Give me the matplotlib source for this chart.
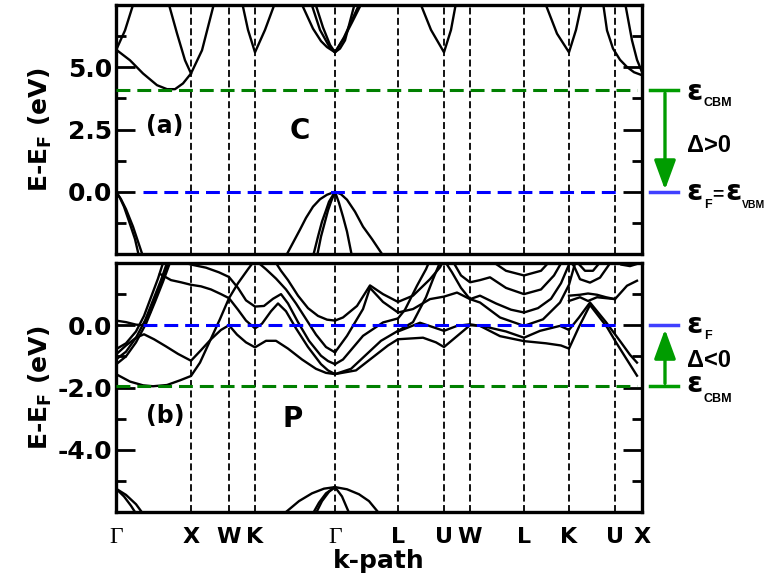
import matplotlib
matplotlib.use("Agg")
import matplotlib.pyplot as plt
from matplotlib.transforms import blended_transform_factory
from matplotlib.ticker import FixedLocator, FormatStrFormatter

plt.rcParams['font.family'] = 'DejaVu Sans'
plt.rcParams['font.weight'] = 'bold'
plt.rcParams['axes.labelweight'] = 'bold'
plt.rcParams['axes.unicode_minus'] = False
plt.rcParams['mathtext.fontset'] = 'dejavusans'
plt.rcParams['mathtext.default'] = 'bf'
plt.rcParams['lines.scale_dashes'] = False

W, H = 765, 587

# high symmetry path, k in path length (arb. units)
kpts = [0, 75, 113, 139, 219, 282, 328, 354, 408, 453, 499, 526]
klabels = ['Γ', 'X', 'W', 'K', 'Γ', 'L', 'U', 'W', 'L', 'K', 'U', 'X']
k_end = 521        # end of the computed bands / level lines
k_fermi = (27, 504)  # extent of the blue E_F line

# (a) C -- bands as (k, E) points
c_cbm = 4.1
c_bands = [
    [(1, 5.68), (14, 5.28), (27, 4.75), (41, 4.28), (51, 4.12), (59, 4.12), (67, 4.35),
     (75, 4.75), (86, 5.68), (97, 7.4), (99, 7.8)],
    [(51, 7.8), (61, 6.36), (69, 5.28), (75, 4.75)],
    [(0, 5.68), (9, 6.48), (17, 7.5), (18, 7.8)],
    [(0, 0.0), (4, -0.25), (8, -0.6), (14, -1.3), (19, -1.9), (23, -2.6)],
    [(0, 0.0), (5, -0.3), (10, -0.7), (17, -1.4), (22, -2.0), (27, -2.6)],
    [(125, 7.8), (132, 6.5), (139, 5.6), (149, 6.5), (161, 7.8)],
    [(185, 7.6), (197, 6.55), (205, 6.05), (211, 5.81), (219, 5.6), (224, 5.75), (229, 6.08),
     (239, 7.6)],
    [(195, 7.6), (204, 6.5), (213, 5.85), (219, 5.6), (228, 6.2), (236, 6.9), (244, 7.6)],
    [(199, 7.6), (207, 6.6), (214, 5.9), (219, 5.6), (227, 6.1), (236, 6.8), (246, 7.6)],
    [(171, -2.5), (184, -1.52), (190, -1.05), (197, -0.6), (204, -0.3), (211, -0.12),
     (219, 0.0), (225, -0.1), (231, -0.32), (239, -0.8), (247, -1.4), (256, -1.9), (266, -2.5)],
    [(197, -2.6), (202, -1.8), (206, -1.2), (210, -0.75), (213, -0.4), (219, 0.0)],
    [(201, -2.6), (205, -1.8), (209, -1.2), (212, -0.75), (215, -0.4), (219, 0.0)],
    [(219, 0.0), (223, -0.45), (227, -1.0), (231, -1.6), (236, -2.6)],
    [(302, 7.8), (315, 6.5), (328, 5.6), (335, 6.5), (341, 7.8)],
    [(427, 7.8), (441, 6.35), (453, 5.6), (460, 6.5), (467, 7.8)],
    [(487, 7.6), (491, 6.48), (497, 5.75), (504, 5.3), (511, 5.01), (518, 4.8), (526, 4.68)],
    [(509, 7.6), (516, 6.08), (521, 5.3), (526, 4.81)],
]

# (b) P
p_cbm = -1.95
p_bands = [
    # Γ-X-W-K
    [(0, -1.57), (14, -1.81), (27, -1.93), (37, -1.96), (51, -1.92), (64, -1.77), (75, -1.63),
     (84, -1.2), (94, -0.5), (104, 0.2), (113, 0.87), (122, 1.35), (132, 1.8), (139, 2.1)],
    [(0, -0.94), (10, -0.65), (20, -0.4), (28, -0.29), (38, -0.45), (50, -0.68), (62, -0.92),
     (75, -1.14), (85, -0.8), (95, -0.45), (105, -0.15), (113, 0.0), (121, -0.3), (130, -0.55),
     (139, -0.71), (150, -0.5), (160, -0.5), (172, -0.75), (186, -1.1), (200, -1.4),
     (210, -1.53), (219, -1.57)],
    [(0, 0.15), (10, 0.1), (20, 0.02), (27, 0.0), (34, 0.4), (41, 1.0), (47, 1.5), (53, 2.1)],
    [(0, -0.77), (10, -0.58), (20, -0.2), (28, 0.3), (35, 0.9), (42, 1.5), (48, 2.1)],
    [(0, -1.1), (10, -0.85), (20, -0.4), (29, 0.15), (37, 0.8), (45, 1.45), (52, 2.1)],
    [(0, -1.26), (10, -1.0), (20, -0.55), (30, 0.05), (39, 0.75), (47, 1.4), (55, 2.1)],
    [(44, 1.65), (55, 1.45), (65, 1.38), (75, 1.3), (85, 1.25), (95, 1.15), (105, 1.0),
     (113, 0.87), (122, 0.5), (130, 0.15), (139, -0.1), (146, 0.05), (155, 0.45), (162, 0.7),
     (170, 0.45), (180, -0.1), (192, -0.7), (205, -1.25), (212, -1.45), (219, -1.57)],
    [(60, 2.1), (75, 1.95), (90, 1.85), (103, 1.7), (113, 1.55), (122, 1.2), (130, 0.8),
     (139, 0.6), (148, 0.62), (157, 0.85), (165, 1.0), (172, 0.7), (182, 0.1), (193, -0.5),
     (205, -0.98), (212, -1.15), (219, -1.25)],
    # K-Γ
    [(139, 2.1), (150, 1.8), (160, 1.5), (170, 1.15), (180, 0.7), (190, 0.2), (200, -0.3),
     (210, -0.7), (219, -0.87)],
    [(158, 2.1), (165, 1.75), (172, 1.45), (182, 0.95), (192, 0.55), (202, 0.3), (211, 0.18),
     (219, 0.15)],
    # Γ-L-U-W-L-K-U-X
    [(219, 0.15), (227, 0.25), (241, 0.62), (254, 1.28), (267, 1.0), (282, 0.75), (297, 0.95),
     (314, 1.48), (324, 1.86), (328, 2.1)],
    [(219, -0.87), (231, -0.34), (247, 0.52), (254, 1.2), (267, 0.75), (282, 0.41), (297, 0.52),
     (314, 0.84), (328, 0.92), (341, 1.05), (354, 0.84), (364, 0.73), (384, 0.25), (408, -0.02),
     (427, 0.19), (444, 0.73), (453, 1.3), (460, 2.1)],
    [(219, -1.25), (227, -1.1), (247, -0.34), (267, 0.09), (282, 0.22), (289, 0.5), (301, 1.27),
     (310, 1.8), (314, 2.1)],
    [(219, -1.57), (235, -1.4), (250, -0.95), (265, -0.5), (282, -0.18), (297, 0.1), (310, 0.9),
     (317, 1.48), (325, 2.1)],
    [(282, -0.2), (304, 0.08), (328, -0.18), (341, -0.02), (354, 0.03), (370, -0.05),
     (390, -0.2), (408, -0.4), (424, -0.18), (444, -0.02), (453, -0.15), (463, 0.25),
     (474, 0.73), (490, 0.1), (505, -0.55), (514, -0.95), (521, -1.2)],
    [(219, -1.57), (240, -1.45), (260, -0.95), (272, -0.65), (282, -0.45), (307, -0.4),
     (320, -0.55), (328, -0.7), (341, -0.35), (354, 0.0), (364, -0.02), (384, -0.35),
     (408, -0.51), (430, -0.58), (445, -0.65), (453, -0.75), (463, -0.05), (474, 0.65),
     (491, -0.06), (501, -0.6), (521, -1.62)],
    [(328, 2.1), (336, 1.7), (345, 1.2), (354, 0.84), (364, 0.95), (380, 0.7), (395, 0.5),
     (408, 0.41), (422, 0.55), (435, 0.85), (445, 1.35), (453, 1.95), (455, 2.1)],
    [(336, 2.1), (345, 1.6), (354, 1.38), (364, 1.45), (374, 1.54), (390, 1.2), (408, 1.0),
     (425, 1.15), (438, 1.6), (447, 2.1)],
    [(374, 2.1), (390, 1.75), (408, 1.6), (425, 1.75), (435, 2.1)],
    [(453, 0.78), (464, 0.9), (472, 0.78), (481, 0.9), (499, 0.84), (511, 1.27), (521, 1.43)],
    [(453, 0.95), (464, 0.98), (472, 1.02), (481, 0.98), (490, 0.9), (499, 0.84)],
    [(453, 2.1), (458, 1.9), (464, 1.48), (474, 1.37), (484, 1.53), (494, 1.99), (496, 2.1)],
    [(459, 2.1), (469, 1.75), (477, 1.75), (486, 2.1)],
    [(499, 2.1), (505, 1.95), (514, 1.9), (521, 1.97)],
    # deep valence bands
    [(0, -5.25), (10, -5.45), (20, -5.75), (28, -6.1)],
    [(0, -5.25), (8, -5.5), (15, -5.8), (21, -6.1)],
    [(170, -6.0), (183, -5.65), (196, -5.4), (208, -5.25), (219, -5.2), (231, -5.27),
     (243, -5.43), (253, -5.65), (262, -6.0)],
    [(196, -6.1), (203, -5.7), (210, -5.4), (219, -5.2)],
    [(199, -6.1), (206, -5.65), (213, -5.35), (219, -5.2)],
    [(219, -5.2), (226, -5.5), (234, -6.1)],
]

green = '#008000'
arrow_green = '#009c00'
blue = '#0000ff'

fig = plt.figure(figsize=(W / 100, H / 100), dpi=100)
ax1 = fig.add_axes([116 / W, 1 - 254 / H, 526 / W, 249 / H])
ax2 = fig.add_axes([116 / W, 1 - 512 / H, 526 / W, 249 / H])


def draw_panel(ax, bands, cbm, ylim, major, minor):
    for k in kpts[1:-1]:
        ax.axvline(k, color='black', lw=1.3, dashes=(5, 2.5), zorder=1)
    for band in bands:
        ks, es = zip(*band)
        ax.plot(ks, es, color='black', lw=1.7, zorder=2, solid_joinstyle='round')
    ax.hlines(cbm, 0, k_end, color=green, lw=2.2, linestyles=[(0, (10, 5))], zorder=3)
    ax.hlines(0, k_fermi[0], k_fermi[1], color=blue, lw=2.2, linestyles=[(0, (10, 5))], zorder=3)
    ax.set_xlim(kpts[0], kpts[-1])
    ax.set_ylim(*ylim)
    ax.yaxis.set_major_locator(FixedLocator(major))
    ax.yaxis.set_minor_locator(FixedLocator(minor))
    ax.yaxis.set_major_formatter(FormatStrFormatter('%.1f'))
    ax.tick_params(axis='y', which='both', direction='in', left=True, right=True,
                   width=2, labelsize=18, pad=3)
    ax.tick_params(axis='y', which='major', length=14)
    ax.tick_params(axis='y', which='minor', length=7)
    ax.set_xticks(kpts)
    ax.tick_params(axis='x', length=0, labelsize=16, pad=11)
    for sp in ax.spines.values():
        sp.set_linewidth(2.4)
    ax.set_ylabel('E-E$_F$ (eV)', fontsize=18, fontweight='bold')
    ax.yaxis.set_label_coords(-0.118, 0.5)


draw_panel(ax1, c_bands, c_cbm, (-2.5, 7.5), [0, 2.5, 5.0], [-1.25, 1.25, 3.75, 6.25])
draw_panel(ax2, p_bands, p_cbm, (-6, 2), [-4, -2, 0], [-5, -3, -1, 1])

ax1.tick_params(axis='x', labelbottom=False)
ax2.set_xticklabels(klabels)
for lbl in ax2.get_xticklabels():
    if lbl.get_text() == 'Γ':
        lbl.set_fontfamily('Liberation Serif')
        lbl.set_fontweight('normal')
        lbl.set_fontsize(17)
ax2.set_xlabel('k-path', fontsize=18, fontweight='bold')
ax2.xaxis.set_label_coords(0.5, -0.15)

ax1.text(0.093, 0.486, '(a)', transform=ax1.transAxes, fontsize=17, ha='center', va='baseline')
ax1.text(0.350, 0.462, 'C', transform=ax1.transAxes, fontsize=20, ha='center', va='baseline')
ax2.text(0.093, 0.358, '(b)', transform=ax2.transAxes, fontsize=17, ha='center', va='baseline')
ax2.text(0.3365, 0.341, 'P', transform=ax2.transAxes, fontsize=20, ha='center', va='baseline')

# level markers and arrows to the right of the panels
for ax, cbm, tail, tip in [(ax1, c_cbm, c_cbm - 0.14, 0.08), (ax2, p_cbm, p_cbm + 0.08, -0.13)]:
    tr = blended_transform_factory(ax.transAxes, ax.transData)
    ax.plot([1.015, 1.068], [cbm, cbm], color=arrow_green, lw=2.5, transform=tr, clip_on=False)
    ax.plot([1.015, 1.068], [0, 0], color='#4040ff', lw=2.5, transform=tr, clip_on=False)
    ax.annotate('', xy=(1.0437, tip), xytext=(1.0437, tail), xycoords=tr, textcoords=tr,
                annotation_clip=False,
                arrowprops=dict(arrowstyle='-|>,head_length=0.9,head_width=0.33',
                                mutation_scale=20, color=arrow_green, lw=2.4,
                                shrinkA=0, shrinkB=0))


def side_text(x, y, s, size, family='Liberation Sans'):
    fig.text(x / W, 1 - y / H, s, fontsize=size, family=family, weight='bold',
             ha='left', va='baseline')


def eps(x, y):
    side_text(x, y, 'ε', 21, family='DejaVu Sans')


eps(686, 100)
side_text(704, 106, 'CBM', 9)
side_text(687, 152, 'Δ>0', 17)
eps(686, 200)
side_text(704, 208, 'F', 9)
side_text(712, 199, '=', 14)
eps(725, 200)
side_text(742, 208, 'VBM', 7.5)

eps(686, 333)
side_text(704, 339, 'F', 9)
side_text(687, 367, 'Δ<0', 17)
eps(686, 392)
side_text(704, 402, 'CBM', 9)

fig.savefig('out.png', dpi=100)
